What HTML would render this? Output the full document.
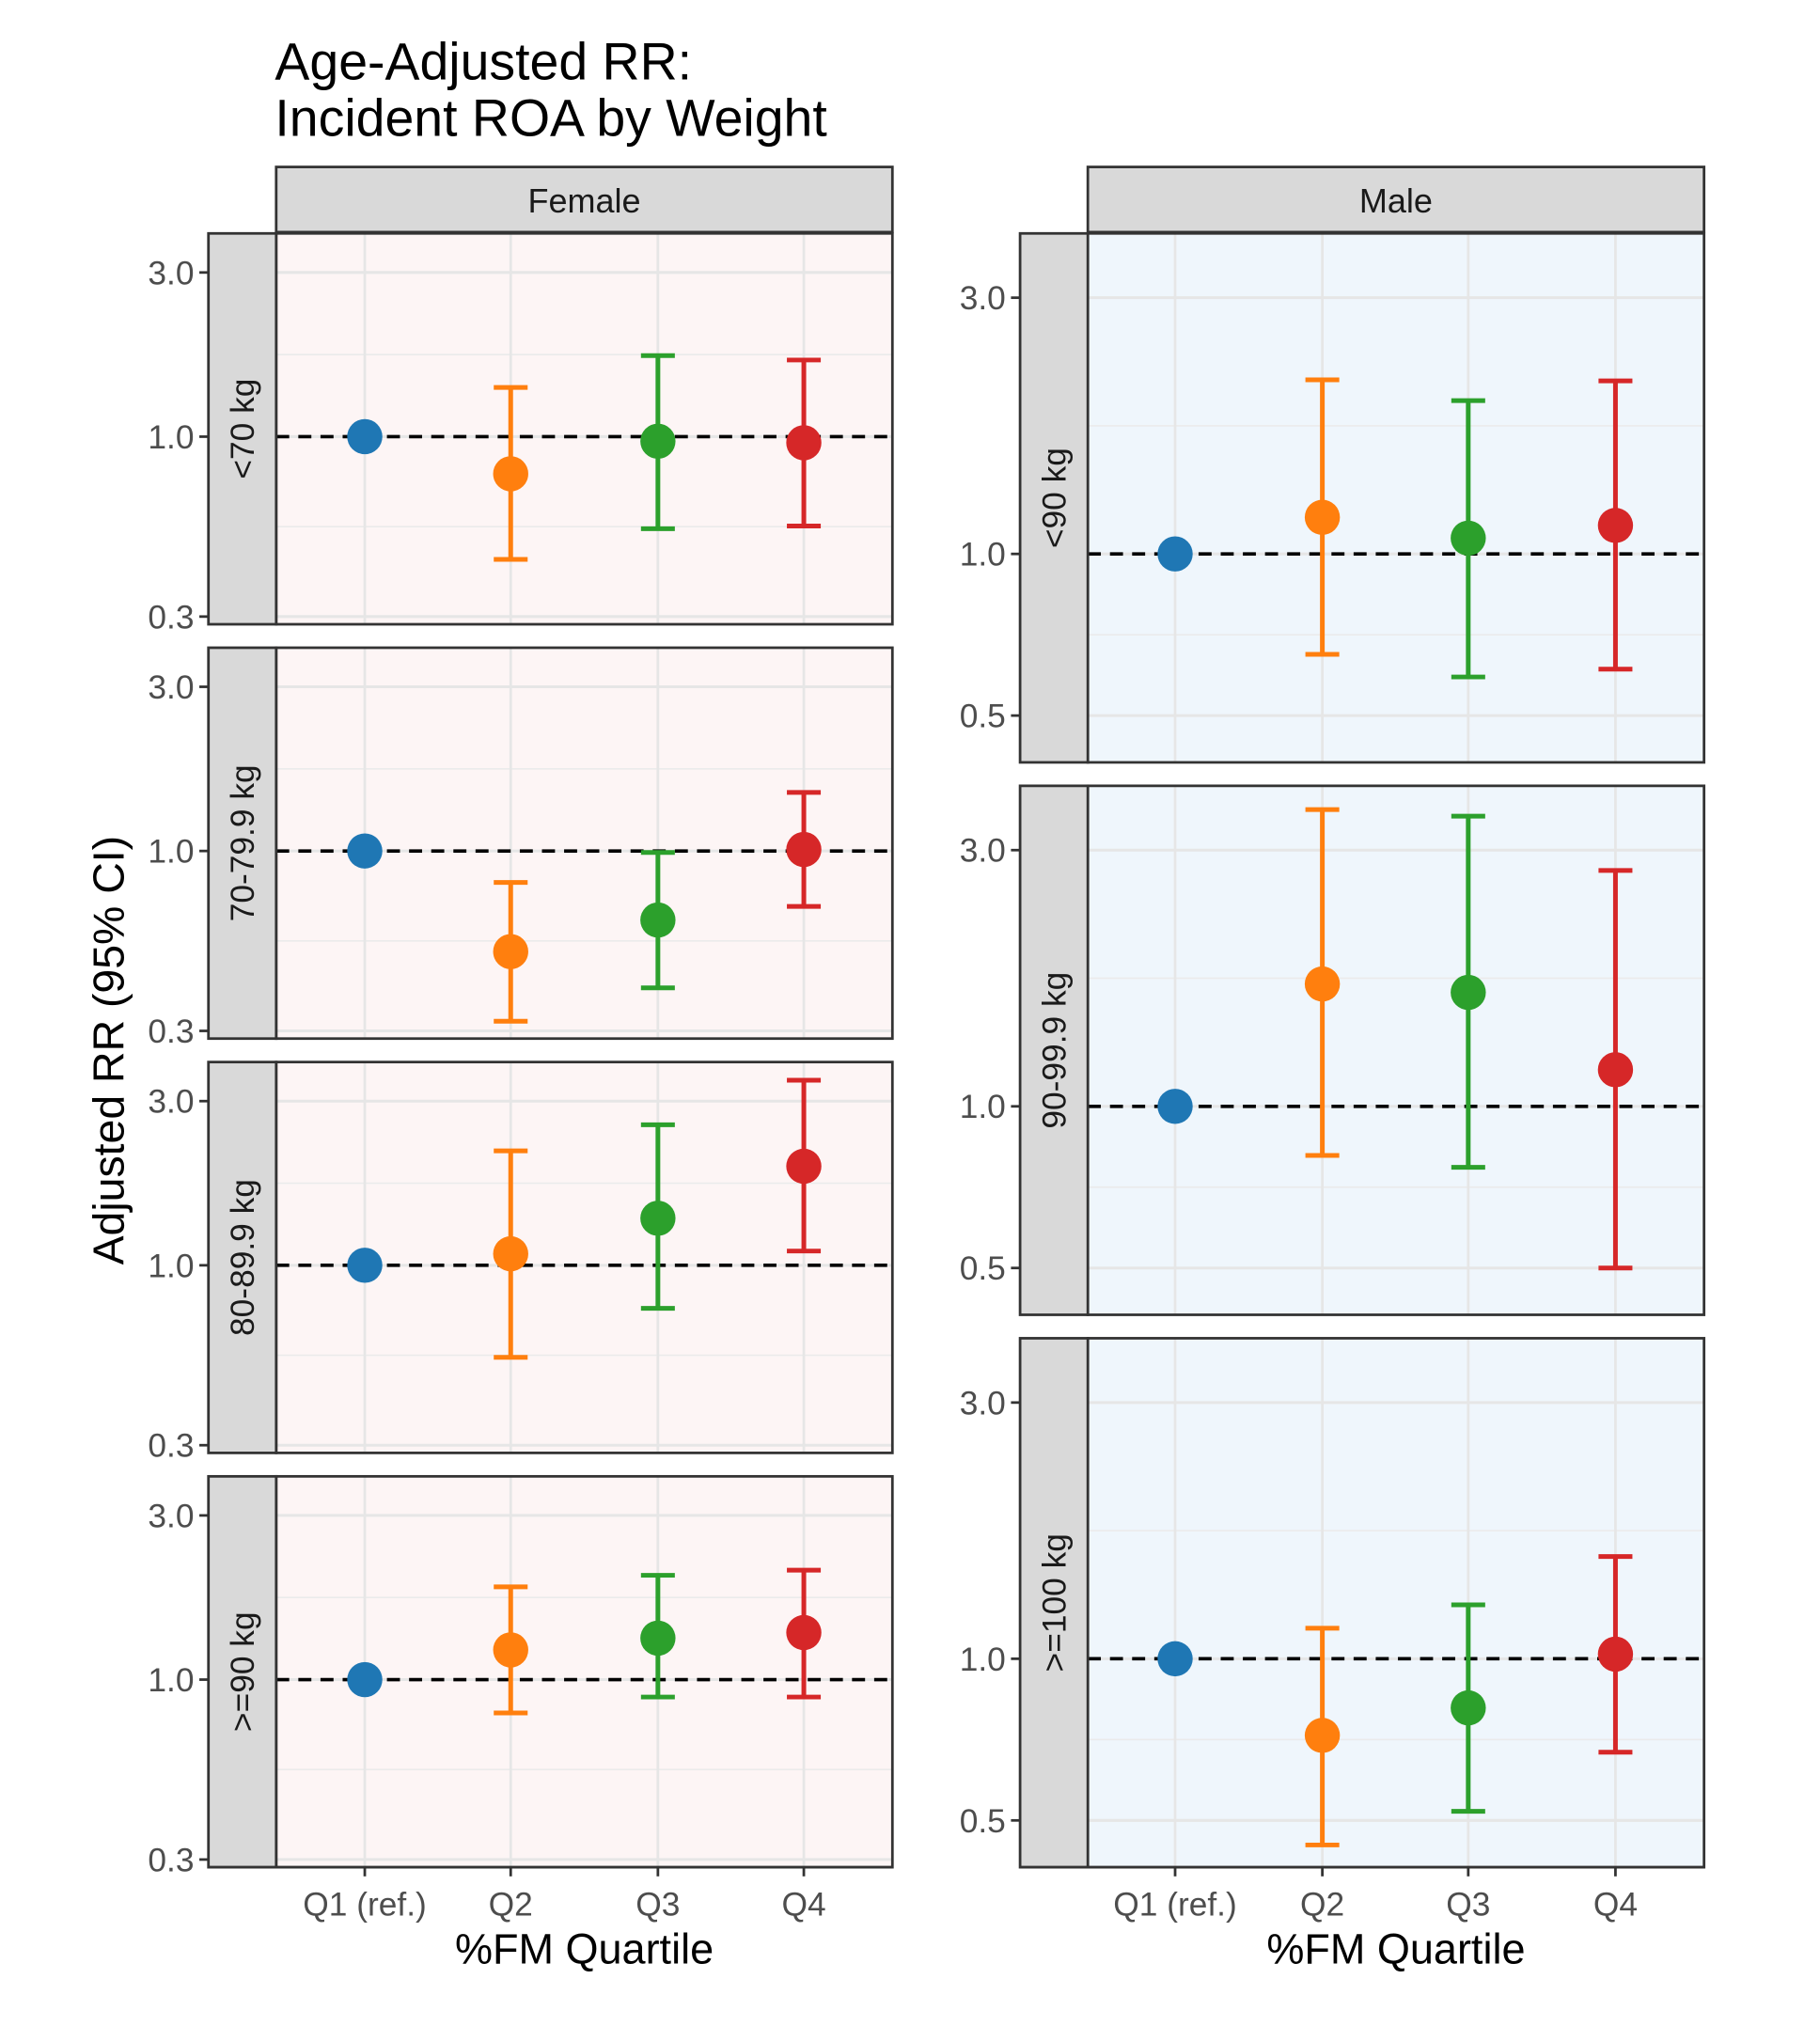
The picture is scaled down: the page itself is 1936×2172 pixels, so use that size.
<!DOCTYPE html>
<html><head><meta charset="utf-8"><style>
html,body{margin:0;padding:0;background:#fff;}
svg{display:block;font-family:"Liberation Sans",Arial,sans-serif;}
</style></head><body>
<svg id="chart" width="1936" height="2172" viewBox="0 0 1397 1567" xmlns="http://www.w3.org/2000/svg">
<text x="211" y="61" font-size="40" fill="#000">Age-Adjusted RR:</text>
<text x="211" y="104" font-size="40" fill="#000">Incident ROA by Weight</text>
<text transform="translate(95,806) rotate(-90)" text-anchor="middle" font-size="33.5" fill="#000">Adjusted RR (95% CI)</text>
<g id="plots"></g>
</svg>
<script>
const categories = ["Q1 (ref.)","Q2","Q3","Q4"];
const colors = ["#1f77b4","#ff7f0e","#2ca02c","#d62728"];
const femaleGroups = ["<70 kg","70-79.9 kg","80-89.9 kg",">=90 kg"];
const femaleEst = [[1.0,0.78,0.97,0.96],[1.0,0.51,0.63,1.01],[1.0,1.08,1.37,1.94],[1.0,1.22,1.32,1.37]];
const femaleLo  = [[null,0.44,0.54,0.55],[null,0.32,0.40,0.69],[null,0.54,0.75,1.10],[null,0.80,0.89,0.89]];
const femaleHi  = [[null,1.39,1.72,1.67],[null,0.81,0.99,1.48],[null,2.15,2.56,3.45],[null,1.86,2.01,2.08]];
const femaleTicks = [3.0,1.0,0.3];
const femaleTickLabels = ["3.0","1.0","0.3"];
const maleGroups = ["<90 kg","90-99.9 kg",">=100 kg"];
const maleEst = [[1.0,1.17,1.07,1.13],[1.0,1.69,1.63,1.17],[1.0,0.72,0.81,1.02]];
const maleLo  = [[null,0.65,0.59,0.61],[null,0.81,0.77,0.50],[null,0.45,0.52,0.67]];
const maleHi  = [[null,2.11,1.93,2.10],[null,3.57,3.47,2.75],[null,1.14,1.26,1.55]];
const maleTicks = [3.0,1.0,0.5];
const maleTickLabels = ["3.0","1.0","0.5"];

const NS="http://www.w3.org/2000/svg";
const root=document.getElementById('plots');
function mk(tag,attrs,parent){const e=document.createElementNS(NS,tag);for(const k in attrs)e.setAttribute(k,attrs[k]);(parent||root).appendChild(e);return e;}

function panel(cfg){
  const {x0,x1,top,h,refY,scale,group,est,lo,hi,ticks,tickLabels,bg,name,xpos}=cfg;
  const y=v=>refY-Math.log(v)*scale;
  const g=mk('g',{});
  
  
  const r=mk('rect',{x:x0,y:top,width:x1-x0,height:h,fill:bg},g);
  
  
  for(let i=0;i<ticks.length-1;i++){
    const m=Math.sqrt(ticks[i]*ticks[i+1]);
    const l=mk('line',{x1:x0,x2:x1,y1:y(m),y2:y(m),stroke:"#ebebeb","stroke-width":1.2},g);
    
    
  }
  ticks.forEach((t,i)=>{
    const l=mk('line',{x1:x0,x2:x1,y1:y(t),y2:y(t),stroke:"#e6e6e6","stroke-width":2.2},g);
    
    
    const tk=mk('line',{x1:x0-59,x2:x0-52,y1:y(t),y2:y(t),stroke:"#333","stroke-width":2},g);
    
    
    const tx=mk('text',{x:x0-63,y:y(t)+9,"text-anchor":"end","font-size":25.5,fill:"#4d4d4d"},g);
    tx.textContent=tickLabels[i];
    
    
  });
  xpos.forEach(xx=>{
    const l=mk('line',{x1:xx,x2:xx,y1:top,y2:top+h,stroke:"#e6e6e6","stroke-width":2},g);
    
    
  });
  const ref=mk('line',{x1:x0,x2:x1,y1:y(1),y2:y(1),stroke:"#000","stroke-width":2.6,"stroke-dasharray":"10,7"},g);
  
  
  est.forEach((v,i)=>{
    const xx=xpos[i];
    if(lo[i]!=null){
      const eb=mk('path',{d:`M${xx-13},${y(hi[i])}H${xx+13}M${xx},${y(hi[i])}V${y(lo[i])}M${xx-13},${y(lo[i])}H${xx+13}`,stroke:colors[i],"stroke-width":3.6,fill:"none"},g);
      
      
    }
    const c=mk('circle',{cx:xx,cy:y(v),r:13.5,fill:colors[i]},g);
    
    
  });
  const b=mk('rect',{x:x0,y:top,width:x1-x0,height:h,fill:"none",stroke:"#333","stroke-width":2},g);
  
  
  const s=mk('rect',{x:x0-52,y:top,width:52,height:h,fill:"#d9d9d9",stroke:"#333","stroke-width":2},g);
  
  
  const st=mk('text',{transform:`translate(${x0-17},${top+h/2}) rotate(-90)`,"text-anchor":"middle","font-size":25.5,fill:"#1a1a1a"},g);
  st.textContent=group;
  
  
}

function column(c){
  const strip=mk('rect',{x:c.x0,y:128,width:c.x1-c.x0,height:50,fill:"#d9d9d9",stroke:"#333","stroke-width":2});
  
  
  const stt=mk('text',{x:(c.x0+c.x1)/2,y:163,"text-anchor":"middle","font-size":26,fill:"#1a1a1a"});
  stt.textContent=c.label;
  
  
  c.groups.forEach((gname,k)=>{
    panel({x0:c.x0,x1:c.x1,top:c.tops[k],h:c.h,refY:c.tops[k]+c.refOff,scale:c.scale,group:gname,
      est:c.est[k],lo:c.lo[k],hi:c.hi[k],ticks:c.ticks,tickLabels:c.tickLabels,bg:c.bg,
      name:c.label.toLowerCase()+'-panel-'+(k+1),xpos:c.xpos});
  });
  const bottom=c.tops[c.tops.length-1]+c.h;
  const ax=mk('line',{x1:c.x0-52,x2:c.x1,y1:bottom,y2:bottom,stroke:"#333","stroke-width":2});
  
  
  categories.forEach((cat,i)=>{
    const t=mk('line',{x1:c.xpos[i],x2:c.xpos[i],y1:bottom,y2:bottom+7,stroke:"#333","stroke-width":2});
    
    
    const tx=mk('text',{x:c.xpos[i],y:bottom+37,"text-anchor":"middle","font-size":25.5,fill:"#4d4d4d"});
    tx.textContent=cat;
    
    
  });
  const xt=mk('text',{x:(c.x0+c.x1)/2,y:bottom+74,"text-anchor":"middle","font-size":32.5,fill:"#000"});
  xt.textContent="%FM Quartile";
  
  
}

column({label:"Female",x0:212,x1:685,tops:[179,497,815,1133],h:300,refOff:156,scale:114.7,
  groups:femaleGroups,est:femaleEst,lo:femaleLo,hi:femaleHi,ticks:femaleTicks,tickLabels:femaleTickLabels,
  bg:"#fdf5f5",xpos:[280,392,505,617]});
column({label:"Male",x0:835,x1:1308,tops:[179,603,1027],h:406,refOff:246,scale:179,
  groups:maleGroups,est:maleEst,lo:maleLo,hi:maleHi,ticks:maleTicks,tickLabels:maleTickLabels,
  bg:"#eff6fc",xpos:[902,1015,1127,1240]});
</script>
</body></html>
